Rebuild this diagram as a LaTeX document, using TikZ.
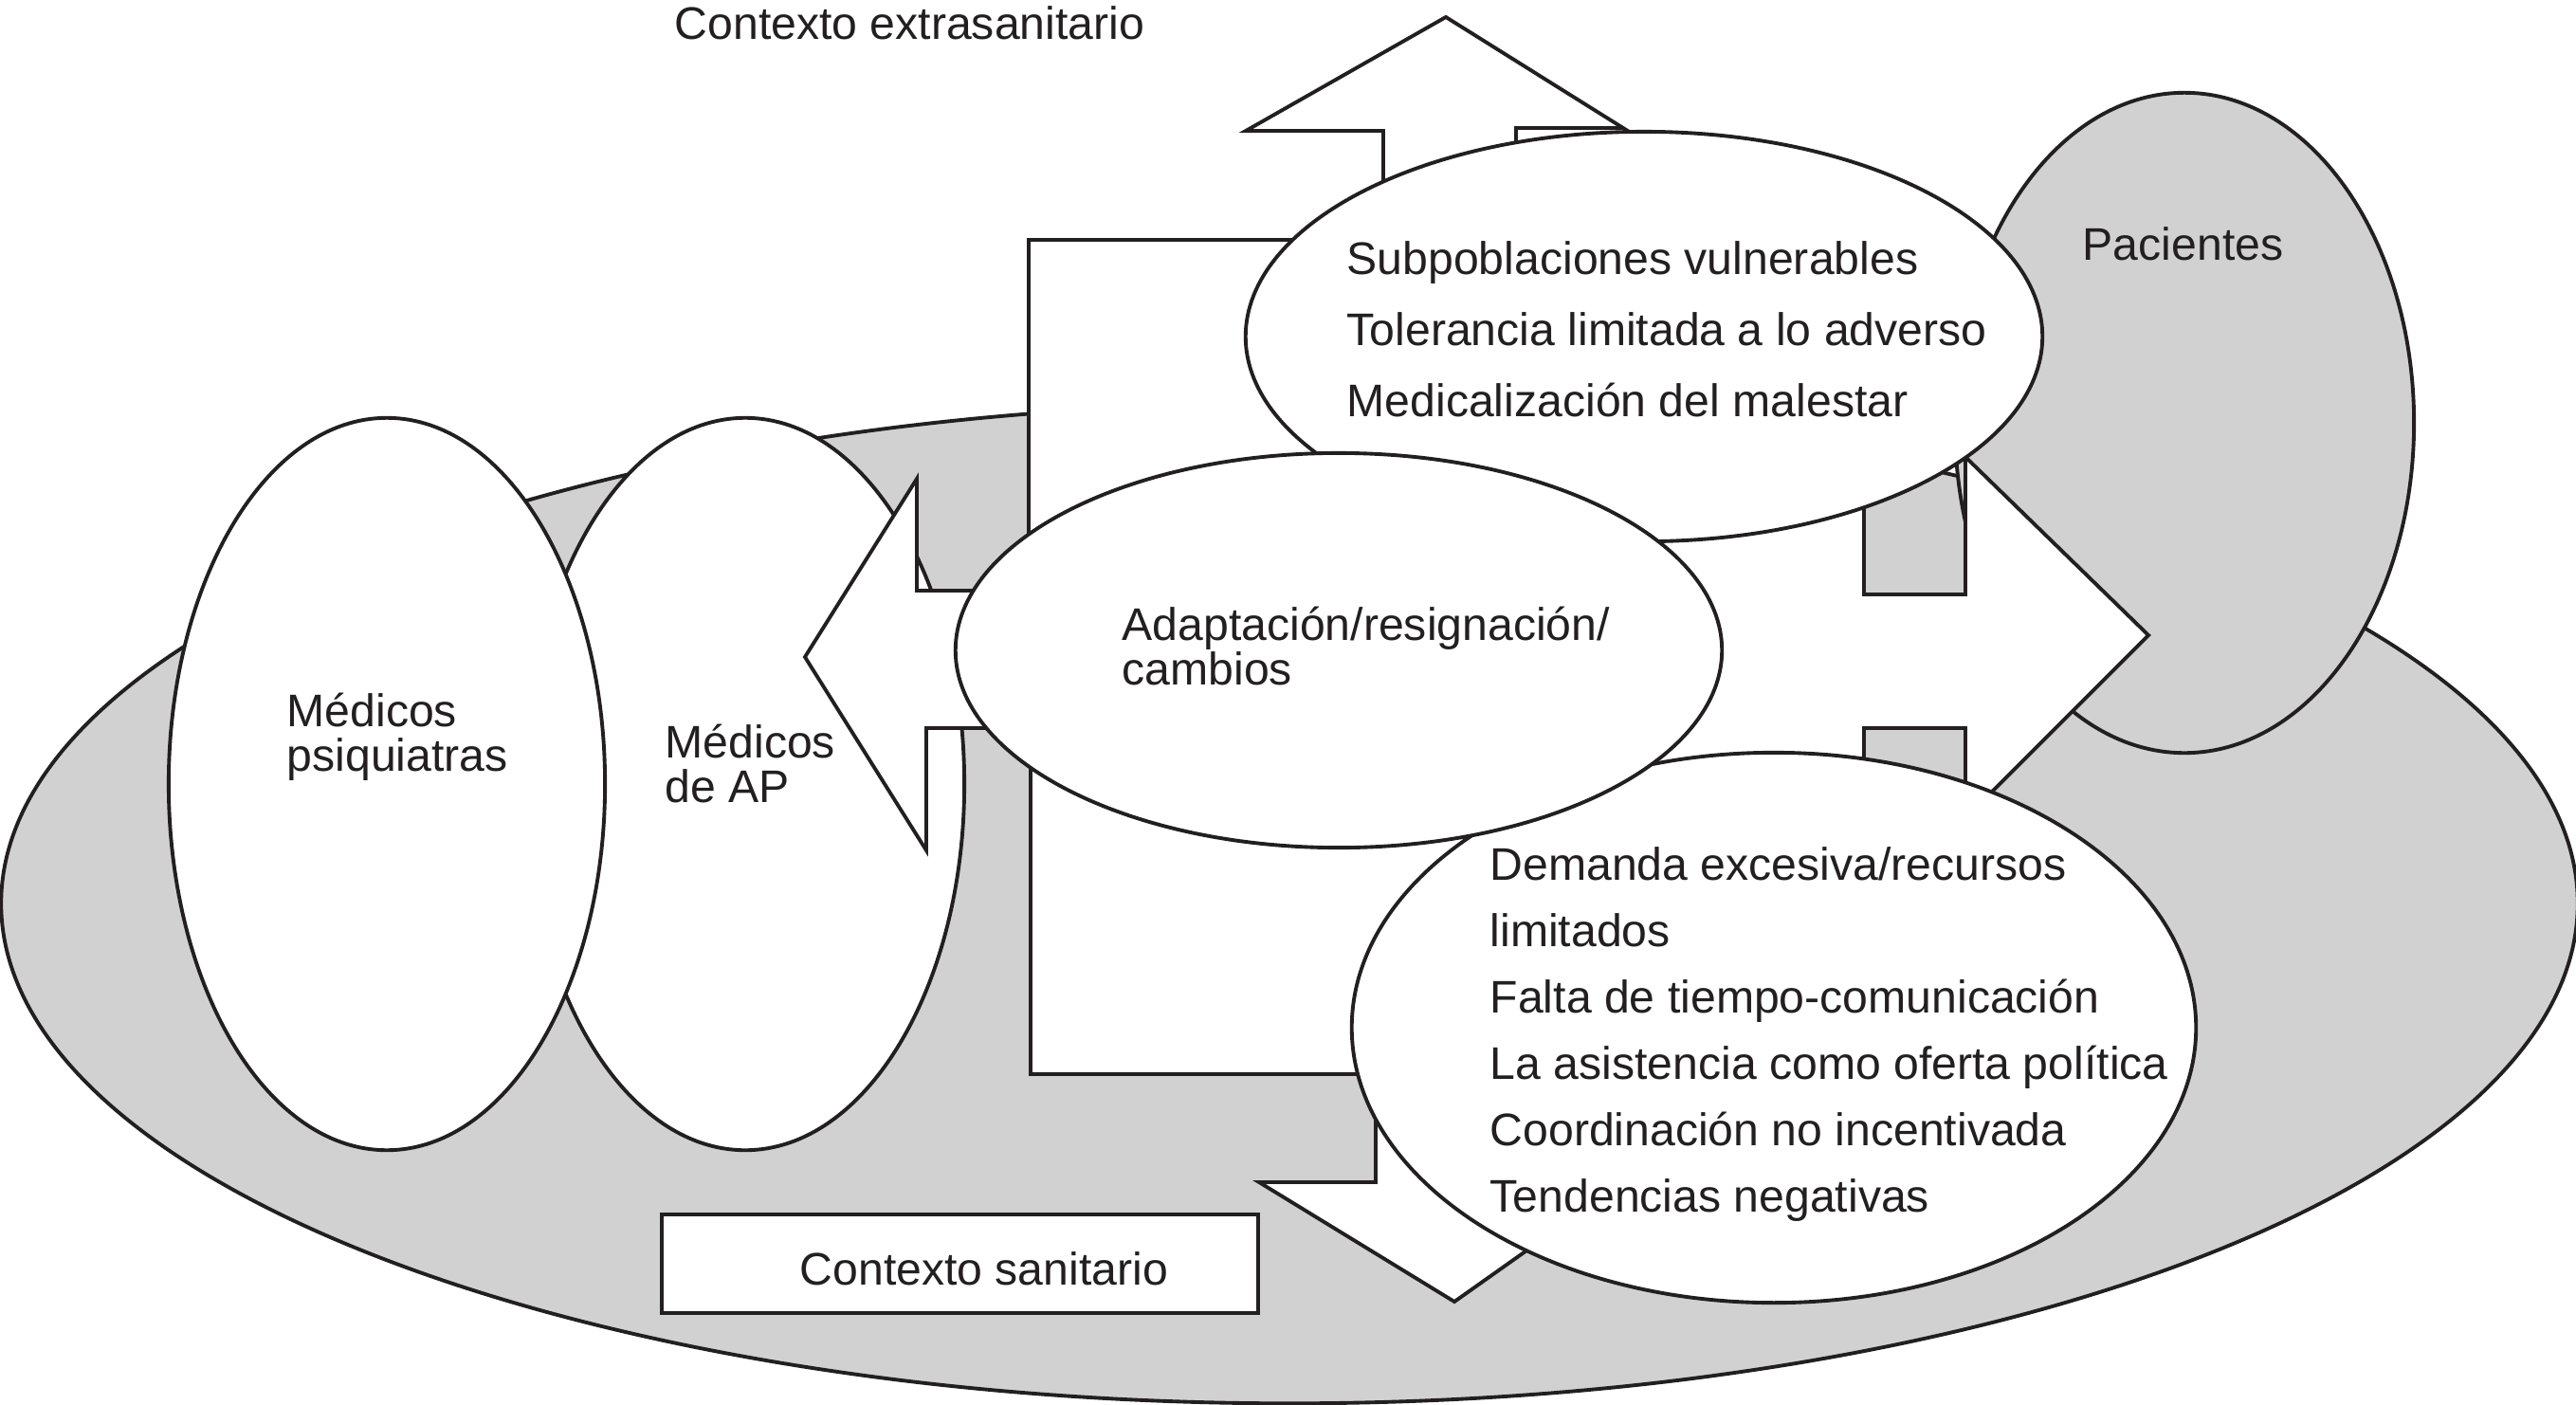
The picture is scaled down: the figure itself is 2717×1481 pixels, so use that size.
\documentclass[tikz,border=0pt]{standalone}
\usepackage{fontspec}
\setmainfont{Liberation Sans}
\usetikzlibrary{shapes.geometric}
\definecolor{ctxgray}{RGB}{209,209,209}
\definecolor{ink}{RGB}{35,31,32}
\begin{document}
\begin{tikzpicture}[x=0.01cm, y=-0.01cm,
  outline/.style={draw=ink, line width=1.1pt, line join=miter},
  grayell/.style={outline, ellipse, fill=ctxgray, inner sep=0pt},
  whiteell/.style={outline, ellipse, fill=white, inner sep=0pt},
  lbl/.style={anchor=base west, inner sep=0pt, text=ink, font=\fontsize{13.7}{16}\selectfont},
]
\useasboundingbox (0,0) rectangle (2717,1481);

% background context ellipse and patients
\node[grayell, minimum width=27.16cm, minimum height=10.54cm] (sanitario) at (1360,953) {};
\node[grayell, minimum width=4.84cm, minimum height=6.96cm] (pacientes) at (2304,446) {};

% physicians
\node[whiteell, minimum width=4.62cm, minimum height=7.72cm] (ap) at (786,827) {};
\node[whiteell, minimum width=4.60cm, minimum height=7.72cm] (psiq) at (408,827) {};

% central square with four block arrows
\draw[outline, fill=white]
  (1085,253) -- (1459,253) -- (1459,138) -- (1314,138) -- (1525,18)
  -- (1712,135) -- (1599,135) -- (1599,253) -- (1966,253)
  -- (1966,627) -- (2073,627) -- (2073,482) -- (2266,670) -- (2073,863)
  -- (2073,768) -- (1966,768) -- (1966,1133)
  -- (1612,1133) -- (1612,1247) -- (1712,1247) -- (1534,1373) -- (1328,1247)
  -- (1451,1247) -- (1451,1133) -- (1087,1133)
  -- (1087,768) -- (977,768) -- (977,897) -- (849,693) -- (967,505)
  -- (967,623) -- (1085,623) -- cycle;

% white ellipses
\node[whiteell, minimum width=8.40cm, minimum height=4.32cm] (subpob) at (1734,355) {};
\node[whiteell, minimum width=8.90cm, minimum height=5.80cm] (demanda) at (1871,1084) {};
\node[whiteell, minimum width=8.08cm, minimum height=4.16cm] (adapt) at (1412,686) {};

% box
\node[outline, fill=white, rectangle, inner sep=0pt, minimum width=6.29cm, minimum height=1.04cm] (sanbox) at (1012.5,1333) {};

% texts
\node[lbl] (t-extra) at (711,41) {Contexto extrasanitario};
\node[lbl] (t-sub1) at (1420,289) {Subpoblaciones vulnerables};
\node[lbl] (t-sub2) at (1420,364) {Tolerancia limitada a lo adverso};
\node[lbl] (t-sub3) at (1420,439) {Medicalización del malestar};
\node[lbl] (t-pac) at (2196,274) {Pacientes};
\node[lbl] (t-ad1) at (1183,675) {Adaptación/resignación/};
\node[lbl] (t-ad2) at (1183,722) {cambios};
\node[lbl] (t-ps1) at (302,766) {Médicos};
\node[lbl] (t-ps2) at (302,813) {psiquiatras};
\node[lbl] (t-ap1) at (701,799) {Médicos};
\node[lbl] (t-ap2) at (701,846) {de AP};
\node[lbl] (t-de1) at (1571,928) {Demanda excesiva/recursos};
\node[lbl] (t-de2) at (1571,998) {limitados};
\node[lbl] (t-de3) at (1571,1068) {Falta de tiempo-comunicación};
\node[lbl] (t-de4) at (1571,1138) {La asistencia como oferta política};
\node[lbl] (t-de5) at (1571,1208) {Coordinación no incentivada};
\node[lbl] (t-de6) at (1571,1278) {Tendencias negativas};
\node[lbl] (t-san) at (843,1355) {Contexto sanitario};
\end{tikzpicture}
\end{document}
